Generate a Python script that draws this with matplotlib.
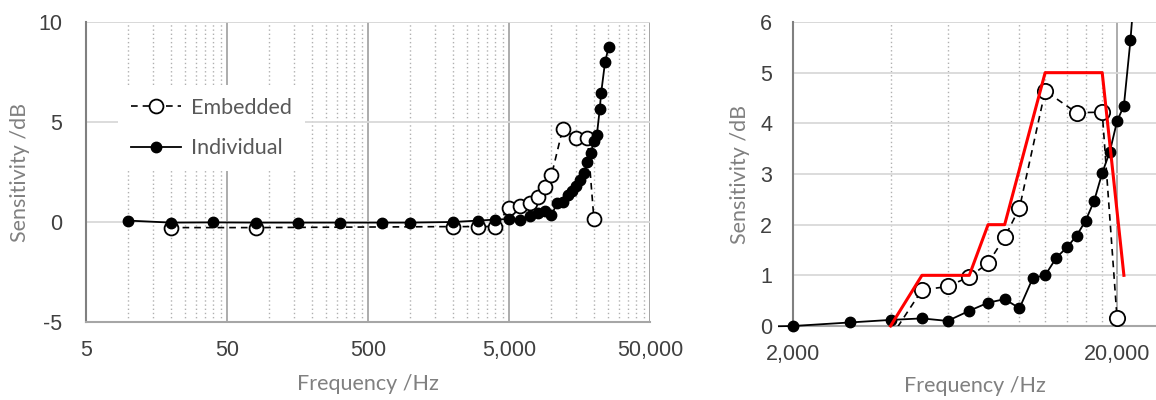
import matplotlib
matplotlib.use("Agg")
import matplotlib.pyplot as plt
from matplotlib.ticker import FixedLocator, FuncFormatter, NullFormatter
from matplotlib.transforms import Bbox, TransformedBbox

plt.rcParams["axes.unicode_minus"] = False

# Individual (filled circles, solid line)
ind_freq = [10, 20, 40, 80, 160, 315, 630, 1000, 2000, 3000, 4000, 5000, 6000,
            7000, 8000, 9000, 10000, 11000, 12000, 13000, 14000, 15000, 16000,
            17000, 18000, 19000, 20000, 21000, 22000, 22500, 24000, 25500]
ind_val = [0.07, -0.03, -0.02, -0.03, -0.03, -0.03, -0.03, -0.03, 0.0, 0.07,
           0.12, 0.15, 0.1, 0.3, 0.46, 0.53, 0.35, 0.95, 1.0, 1.35, 1.55, 1.78,
           2.08, 2.47, 3.02, 3.44, 4.04, 4.35, 5.64, 6.43, 8.0, 8.77]

# Embedded (open circles, dashed line)
emb_freq = [20, 80, 2000, 3000, 4000, 5000, 6000, 7000, 8000, 9000, 10000,
            12000, 15000, 18000, 20000]
emb_val = [-0.28, -0.28, -0.23, -0.23, -0.23, 0.71, 0.78, 0.97, 1.24, 1.75,
           2.33, 4.64, 4.21, 4.22, 0.16]

# red limit line (right chart)
lim_freq = [4000, 5000, 7000, 8000, 9000, 12000, 18000, 21000]
lim_val = [0, 1, 1, 2, 2, 5, 5, 1]

W, H = 1156, 400
fig = plt.figure(figsize=(W / 100, H / 100), dpi=100)

tick_font = dict(family="Liberation Sans", size=15.5, color="#404040")
lab_font = dict(family="Lato", size=15.5, color="#808080")


def thousands(v, pos):
    return f"{v:,.0f}"


def style(ax, majors, minors, yticks, ypad):
    ax.set_xscale("log")
    ax.xaxis.set_major_locator(FixedLocator(majors))
    ax.xaxis.set_major_formatter(FuncFormatter(thousands))
    ax.xaxis.set_minor_locator(FixedLocator(minors))
    ax.xaxis.set_minor_formatter(NullFormatter())
    ax.set_yticks(yticks)
    ax.tick_params(which="both", length=0)
    ax.tick_params(axis="x", pad=13)
    ax.tick_params(axis="y", pad=ypad)
    for lb in ax.get_xticklabels() + ax.get_yticklabels():
        lb.set_fontfamily(tick_font["family"])
        lb.set_fontsize(tick_font["size"])
        lb.set_color(tick_font["color"])
    ax.grid(which="major", axis="y", color="#d9d9d9", lw=1.3)
    ax.grid(which="major", axis="x", color="#a6a6a6", lw=1.3)
    ax.grid(which="minor", axis="x", color="#b0b0b0", lw=1.0, ls=(0, (1, 2)))
    ax.set_axisbelow(True)
    for s in ["top", "right"]:
        ax.spines[s].set_visible(False)
    ax.spines["left"].set_color("#808080")
    ax.spines["bottom"].set_color("#a6a6a6")
    ax.spines["left"].set_linewidth(1.5)
    ax.spines["bottom"].set_linewidth(1.5)
    ax.set_xlabel("Frequency /Hz", **lab_font)
    ax.set_ylabel("Sensitivity /dB", **lab_font)


# ---------------- left chart
ax1 = fig.add_axes([86 / W, 78 / H, 564 / W, 300 / H])
ax1.set_xlim(5, 50000)
ax1.set_ylim(-5, 10)
maj1 = [5, 50, 500, 5000, 50000]
min1 = [k * m for m in maj1[:-1] for k in range(2, 10)]
style(ax1, maj1, min1, [-5, 0, 5, 10], 17)
ax1.axhline(10, color="#d9d9d9", lw=1.3, zorder=0.5)
ax1.axvline(50000, color="#a6a6a6", lw=1.3, zorder=0.5)

ax1.plot(emb_freq, emb_val, ls=(0, (4, 3)), lw=1.2, color="black",
         marker="o", ms=10, mfc="white", mec="black", mew=1.3,
         label="Embedded", zorder=3)
ax1.plot(ind_freq, ind_val, ls="-", lw=1.3, color="black",
         marker="o", ms=7.5, mfc="black", mec="black",
         label="Individual", zorder=4)
leg = ax1.legend(loc="upper left", bbox_to_anchor=(0.057, 0.79),
                 borderaxespad=0, frameon=True, facecolor="white",
                 edgecolor="none", framealpha=1, fancybox=False, numpoints=1,
                 handlelength=2.3, labelspacing=0.95, borderpad=0.6,
                 handletextpad=0.5, prop={"family": "Lato", "size": 15.5})
for t in leg.get_texts():
    t.set_color("#595959")
ax1.xaxis.set_label_coords(0.5, -0.175)
ax1.yaxis.set_label_coords(-0.1, 0.5)

# ---------------- right chart
ax2 = fig.add_axes([793 / W, 74 / H, 363 / W, 304 / H])
ax2.set_xlim(2000, 26380)
ax2.set_ylim(0, 6)
maj2 = [2000, 20000]
min2 = [k * 2000 for k in range(2, 10)]
style(ax2, maj2, min2, [0, 1, 2, 3, 4, 5, 6], 15)
ax2.axhline(6, color="#d9d9d9", lw=1.3, zorder=0.5)

clip = TransformedBbox(Bbox.from_extents(-0.04, -0.04, 1.0, 1.0), ax2.transAxes)
ax2.plot(emb_freq, emb_val, ls=(0, (4, 3)), lw=1.2, color="black",
         marker="o", ms=11, mfc="white", mec="black", mew=1.3, zorder=3)
l2, = ax2.plot(ind_freq, ind_val, ls="-", lw=1.3, color="black",
               marker="o", ms=7.5, mfc="black", mec="black", zorder=4)
l3, = ax2.plot(lim_freq, lim_val, ls="-", lw=2.2, color="#ff0000", zorder=5)
for ln in (l2, l3):
    ln.set_clip_box(clip)
ax2.xaxis.set_label_coords(0.5, -0.165)
ax2.yaxis.set_label_coords(-0.118, 0.5)

fig.savefig("out.png", dpi=100)
